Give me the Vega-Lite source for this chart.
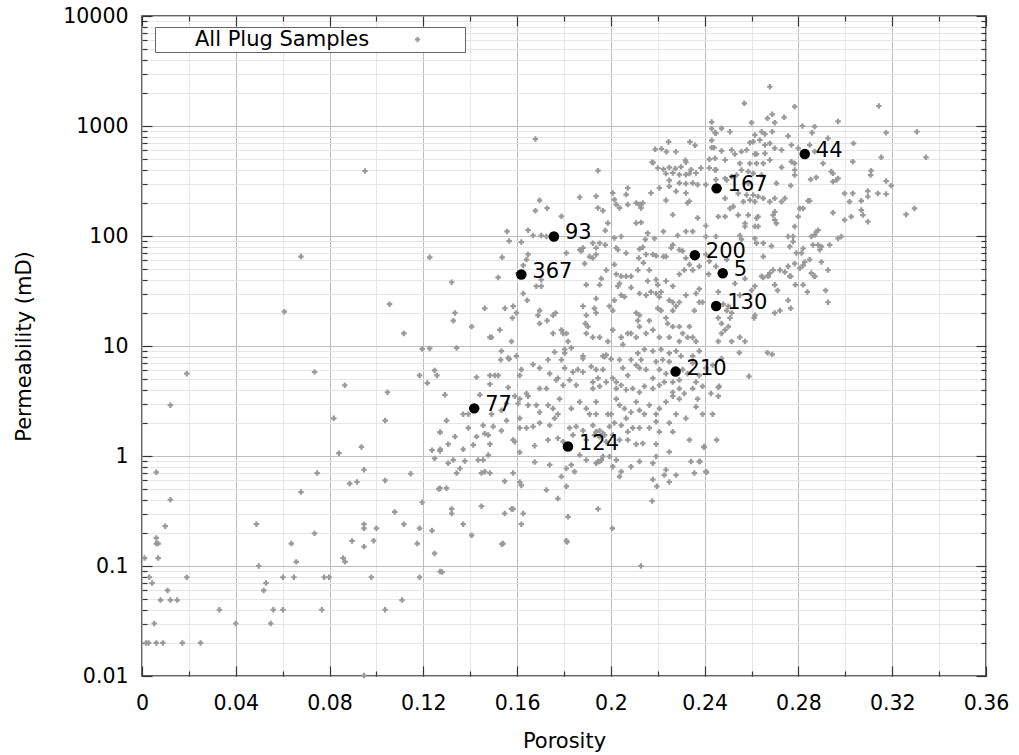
{
"$schema": "https://vega.github.io/schema/vega-lite/v6.json",
"width": 844, "height": 660,
"autosize": {"type": "none"},
"padding": {"left": 142, "top": 16, "right": 33, "bottom": 79},
"background": "white",
"config": {"view": {"stroke": "#333333", "strokeWidth": 1.5}, "font": "DejaVu Sans"},
"datasets": {
"marked": [{"por":0.2827,"perm":556,"label":"44"},{"por":0.2451,"perm":271,"label":"167"},{"por":0.1757,"perm":99,"label":"93"},{"por":0.2358,"perm":67,"label":"200"},{"por":0.1618,"perm":44.6,"label":"367"},{"por":0.2477,"perm":45.8,"label":"5"},{"por":0.2449,"perm":23.1,"label":"130"},{"por":0.2276,"perm":5.85,"label":"210"},{"por":0.1417,"perm":2.71,"label":"77"},{"por":0.1817,"perm":1.22,"label":"124"}],
"plugs": [
{"por":0.0678,"perm":65},{"por":0.1227,"perm":64},{"por":0.0607,"perm":20.5},{"por":0.1056,"perm":24},{"por":0.1117,"perm":13},{"por":0.1195,"perm":9.4},{"por":0.1227,"perm":9.5},{"por":0.0191,"perm":5.6},{"por":0.0121,"perm":2.9},{"por":0.0736,"perm":5.8},{"por":0.0865,"perm":4.4},{"por":0.1047,"perm":3.8},{"por":0.1184,"perm":5.4},{"por":0.1217,"perm":4.6},{"por":0.1248,"perm":6.0},{"por":0.1258,"perm":5.4},{"por":0.0818,"perm":2.2},{"por":0.1037,"perm":2.1},{"por":0.1272,"perm":1.65},{"por":0.084,"perm":1.06},{"por":0.0936,"perm":1.21},{"por":0.1237,"perm":1.13},{"por":0.1272,"perm":1.15},{"por":0.1248,"perm":0.95},{"por":0.0061,"perm":0.71},{"por":0.0121,"perm":0.4},{"por":0.0099,"perm":0.23},{"por":0.0061,"perm":0.18},{"por":0.0061,"perm":0.16},{"por":0.0069,"perm":0.16},{"por":0.0069,"perm":0.118},{"por":0.0011,"perm":0.118},{"por":0.0031,"perm":0.079},{"por":0.0043,"perm":0.07},{"por":0.0191,"perm":0.079},{"por":0.0109,"perm":0.06},{"por":0.0079,"perm":0.049},{"por":0.0121,"perm":0.049},{"por":0.015,"perm":0.049},{"por":0.0052,"perm":0.03},{"por":0.0017,"perm":0.02},{"por":0.0028,"perm":0.02},{"por":0.0061,"perm":0.02},{"por":0.0089,"perm":0.02},{"por":0.0172,"perm":0.02},{"por":0.025,"perm":0.02},{"por":0.033,"perm":0.04},{"por":0.04,"perm":0.03},{"por":0.0488,"perm":0.24},{"por":0.0498,"perm":0.1},{"por":0.0519,"perm":0.06},{"por":0.0529,"perm":0.07},{"por":0.056,"perm":0.04},{"por":0.0549,"perm":0.03},{"por":0.0601,"perm":0.079},{"por":0.0601,"perm":0.04},{"por":0.0648,"perm":0.079},{"por":0.0637,"perm":0.16},{"por":0.0658,"perm":0.109},{"por":0.0678,"perm":0.47},{"por":0.0747,"perm":0.7},{"por":0.0736,"perm":0.198},{"por":0.0767,"perm":0.04},{"por":0.0777,"perm":0.079},{"por":0.0798,"perm":0.079},{"por":0.0858,"perm":0.118},{"por":0.0866,"perm":0.109},{"por":0.0886,"perm":0.56},{"por":0.0917,"perm":0.58},{"por":0.0896,"perm":0.169},{"por":0.0947,"perm":0.75},{"por":0.0947,"perm":0.24},{"por":0.0947,"perm":0.22},{"por":0.0947,"perm":0.15},{"por":0.1,"perm":0.22},{"por":0.0988,"perm":0.17},{"por":0.0978,"perm":0.079},{"por":0.0947,"perm":0.0101},{"por":0.1037,"perm":0.6},{"por":0.1037,"perm":0.04},{"por":0.1078,"perm":0.31},{"por":0.1117,"perm":0.24},{"por":0.1109,"perm":0.049},{"por":0.1146,"perm":0.69},{"por":0.1184,"perm":0.22},{"por":0.1174,"perm":0.16},{"por":0.1184,"perm":0.079},{"por":0.1195,"perm":0.38},{"por":0.1237,"perm":0.21},{"por":0.1248,"perm":0.13},{"por":0.1266,"perm":0.5},{"por":0.1272,"perm":0.089},{"por":0.0951,"perm":390},
{"por":0.1945,"perm":393},{"por":0.2176,"perm":468},{"por":0.22,"perm":415},{"por":0.2224,"perm":405},{"por":0.2249,"perm":420},{"por":0.2275,"perm":410},{"por":0.2299,"perm":425},{"por":0.232,"perm":468},{"por":0.2342,"perm":401},{"por":0.2363,"perm":374},{"por":0.2384,"perm":415},{"por":0.242,"perm":415},{"por":0.2448,"perm":401},{"por":0.2235,"perm":369},{"por":0.2264,"perm":374},{"por":0.2292,"perm":361},{"por":0.232,"perm":361},{"por":0.2335,"perm":369},{"por":0.2249,"perm":321},{"por":0.2292,"perm":303},{"por":0.232,"perm":299},{"por":0.2349,"perm":303},{"por":0.237,"perm":293},{"por":0.2249,"perm":283},{"por":0.2278,"perm":255},{"por":0.232,"perm":246},{"por":0.2405,"perm":293},{"por":0.2448,"perm":325},{"por":0.2207,"perm":273},{"por":0.2171,"perm":246},{"por":0.2072,"perm":273},{"por":0.2065,"perm":238},{"por":0.2008,"perm":246},{"por":0.2015,"perm":214},{"por":0.2023,"perm":193},{"por":0.2072,"perm":193},{"por":0.2108,"perm":200},{"por":0.2122,"perm":193},{"por":0.2136,"perm":200},{"por":0.2129,"perm":180},{"por":0.2037,"perm":180},{"por":0.1937,"perm":230},{"por":0.1867,"perm":225},{"por":0.1696,"perm":211},{"por":0.1678,"perm":170},{"por":0.1728,"perm":179},{"por":0.1789,"perm":151},{"por":0.1966,"perm":170},{"por":0.1945,"perm":180},{"por":0.2235,"perm":211},{"por":0.2327,"perm":200},{"por":0.2335,"perm":207},{"por":0.2264,"perm":156},{"por":0.237,"perm":146},{"por":0.2405,"perm":124},{"por":0.1987,"perm":131},{"por":0.2108,"perm":131},{"por":0.2129,"perm":133},{"por":0.2157,"perm":106},{"por":0.2147,"perm":93},{"por":0.2186,"perm":95},{"por":0.2224,"perm":110},{"por":0.2285,"perm":101},{"por":0.232,"perm":110},{"por":0.2349,"perm":110},{"por":0.2405,"perm":99},{"por":0.2448,"perm":99},{"por":0.1557,"perm":110},{"por":0.1647,"perm":113},{"por":0.1668,"perm":101},{"por":0.1703,"perm":101},{"por":0.1725,"perm":99},{"por":0.1566,"perm":90},{"por":0.1618,"perm":88},{"por":0.181,"perm":70},{"por":0.1867,"perm":75},{"por":0.1881,"perm":78},{"por":0.1874,"perm":73},{"por":0.1923,"perm":86},{"por":0.1937,"perm":78},{"por":0.1952,"perm":86},{"por":0.1976,"perm":83},{"por":0.1976,"perm":112},{"por":0.2015,"perm":96},{"por":0.2023,"perm":78},{"por":0.2044,"perm":99},{"por":0.203,"perm":75},{"por":0.2065,"perm":70},{"por":0.2122,"perm":76},{"por":0.2136,"perm":79},{"por":0.215,"perm":68},{"por":0.2179,"perm":68},{"por":0.2193,"perm":66},{"por":0.2224,"perm":65},{"por":0.2235,"perm":65},{"por":0.2264,"perm":83},{"por":0.2257,"perm":78},{"por":0.2292,"perm":75},{"por":0.2306,"perm":73},{"por":0.232,"perm":63},{"por":0.2405,"perm":68},{"por":0.242,"perm":59},{"por":0.2377,"perm":53},{"por":0.1536,"perm":64},{"por":0.1647,"perm":68},{"por":0.164,"perm":61},{"por":0.1626,"perm":54},{"por":0.1604,"perm":46},{"por":0.1519,"perm":42},{"por":0.1321,"perm":38},{"por":0.1682,"perm":35},{"por":0.1703,"perm":35},{"por":0.1703,"perm":40},{"por":0.1888,"perm":56},{"por":0.1923,"perm":63},{"por":0.1909,"perm":65},{"por":0.1937,"perm":68},{"por":0.198,"perm":49},{"por":0.2015,"perm":55},{"por":0.2023,"perm":45},{"por":0.2044,"perm":43},{"por":0.2065,"perm":43},{"por":0.2086,"perm":43},{"por":0.2119,"perm":63},{"por":0.2115,"perm":49},{"por":0.2139,"perm":57},{"por":0.2164,"perm":49},{"por":0.2157,"perm":39},{"por":0.2193,"perm":40},{"por":0.22,"perm":36},{"por":0.2235,"perm":39},{"por":0.2264,"perm":35},{"por":0.2292,"perm":45},{"por":0.2313,"perm":49},{"por":0.2335,"perm":55},{"por":0.2349,"perm":49},{"por":0.2417,"perm":45},{"por":0.2448,"perm":53},{"por":0.1895,"perm":36},{"por":0.1959,"perm":41},{"por":0.1952,"perm":36},{"por":0.203,"perm":35},{"por":0.2037,"perm":37},{"por":0.2086,"perm":34},{"por":0.2122,"perm":30},{"por":0.215,"perm":29},{"por":0.2171,"perm":31},{"por":0.2193,"perm":30},{"por":0.2207,"perm":28},{"por":0.2214,"perm":31},{"por":0.2249,"perm":26},{"por":0.2264,"perm":25},{"por":0.2292,"perm":25},{"por":0.2278,"perm":23},{"por":0.232,"perm":29},{"por":0.2363,"perm":30},{"por":0.2391,"perm":25},{"por":0.2377,"perm":33},{"por":0.1626,"perm":30},{"por":0.1643,"perm":26},{"por":0.1583,"perm":23},{"por":0.1548,"perm":22},{"por":0.1462,"perm":22},{"por":0.1335,"perm":20},{"por":0.1328,"perm":17},{"por":0.1406,"perm":15},{"por":0.1491,"perm":12},{"por":0.1526,"perm":14},{"por":0.158,"perm":18},{"por":0.1597,"perm":20},{"por":0.1696,"perm":21},{"por":0.1689,"perm":19},{"por":0.1764,"perm":20},{"por":0.1753,"perm":19},{"por":0.1728,"perm":17},{"por":0.1753,"perm":13},{"por":0.1789,"perm":14},{"por":0.1796,"perm":13},{"por":0.181,"perm":13},{"por":0.1817,"perm":11},{"por":0.1696,"perm":16},{"por":0.1881,"perm":23},{"por":0.1895,"perm":19},{"por":0.1891,"perm":16},{"por":0.193,"perm":22},{"por":0.1937,"perm":20},{"por":0.1937,"perm":27},{"por":0.1994,"perm":23},{"por":0.2008,"perm":21},{"por":0.2015,"perm":26},{"por":0.2044,"perm":29},{"por":0.2058,"perm":28},{"por":0.2108,"perm":20},{"por":0.2122,"perm":19},{"por":0.2115,"perm":17},{"por":0.2122,"perm":15},{"por":0.2164,"perm":17},{"por":0.22,"perm":22},{"por":0.2214,"perm":21},{"por":0.2235,"perm":18},{"por":0.2242,"perm":16},{"por":0.2264,"perm":21},{"por":0.2264,"perm":15},{"por":0.2292,"perm":15},{"por":0.2306,"perm":13},{"por":0.2335,"perm":15},{"por":0.2349,"perm":12},{"por":0.2363,"perm":11},{"por":0.2377,"perm":25},{"por":0.2356,"perm":21},{"por":0.1895,"perm":13},{"por":0.1902,"perm":15},{"por":0.1923,"perm":12},{"por":0.1952,"perm":12},{"por":0.2008,"perm":14},{"por":0.1987,"perm":11},{"por":0.2044,"perm":12},{"por":0.2072,"perm":13},{"por":0.2086,"perm":13},{"por":0.2108,"perm":12},{"por":0.215,"perm":13},{"por":0.2179,"perm":14},{"por":0.2207,"perm":12},{"por":0.2249,"perm":12},{"por":0.2292,"perm":11},{"por":0.2327,"perm":12},{"por":0.1484,"perm":12},{"por":0.1576,"perm":11},{"por":0.1342,"perm":9.6},{"por":0.1533,"perm":9.0},{"por":0.1562,"perm":7.8},{"por":0.1597,"perm":8.1},{"por":0.176,"perm":8.8},{"por":0.1803,"perm":9.3},{"por":0.1803,"perm":8.6},{"por":0.1831,"perm":9.6},{"por":0.1881,"perm":8.1},{"por":0.1966,"perm":8.1},{"por":0.198,"perm":8.3},{"por":0.2051,"perm":10.3},{"por":0.2115,"perm":8.6},{"por":0.2143,"perm":9.3},{"por":0.2179,"perm":9.0},{"por":0.2214,"perm":9.3},{"por":0.2249,"perm":8.6},{"por":0.2278,"perm":9.0},{"por":0.2299,"perm":8.1},{"por":0.2349,"perm":8.1},{"por":0.2377,"perm":9.0},
{"por":0.153,"perm":7.5},{"por":0.1566,"perm":7.6},{"por":0.1618,"perm":6.1},{"por":0.1668,"perm":6.8},{"por":0.1696,"perm":6.3},{"por":0.1732,"perm":7.5},{"por":0.1739,"perm":5.6},{"por":0.1774,"perm":5.1},{"por":0.1789,"perm":7.5},{"por":0.1803,"perm":6.3},{"por":0.1838,"perm":5.8},{"por":0.1859,"perm":6.1},{"por":0.1881,"perm":7.7},{"por":0.1881,"perm":5.8},{"por":0.1916,"perm":6.5},{"por":0.1937,"perm":6.1},{"por":0.1945,"perm":5.1},{"por":0.1966,"perm":6.1},{"por":0.1973,"perm":8.0},{"por":0.2001,"perm":7.6},{"por":0.2008,"perm":5.1},{"por":0.2023,"perm":4.7},{"por":0.2037,"perm":7.5},{"por":0.2051,"perm":6.3},{"por":0.2072,"perm":5.4},{"por":0.2086,"perm":7.5},{"por":0.2108,"perm":6.7},{"por":0.2122,"perm":6.3},{"por":0.2129,"perm":7.5},{"por":0.215,"perm":6.1},{"por":0.2179,"perm":5.1},{"por":0.2193,"perm":7.2},{"por":0.2207,"perm":6.1},{"por":0.2221,"perm":7.5},{"por":0.2235,"perm":5.6},{"por":0.2249,"perm":7.2},{"por":0.2264,"perm":4.7},{"por":0.2292,"perm":4.9},{"por":0.2306,"perm":6.1},{"por":0.2327,"perm":5.6},{"por":0.2349,"perm":7.0},{"por":0.2363,"perm":4.7},{"por":0.2377,"perm":5.4},{"por":0.2405,"perm":6.3},{"por":0.2434,"perm":6.7},{"por":0.2462,"perm":4.3},
{"por":0.1427,"perm":5.2},{"por":0.1484,"perm":5.4},{"por":0.1505,"perm":5.4},{"por":0.1519,"perm":5.4},{"por":0.1441,"perm":3.6},{"por":0.1484,"perm":4.5},{"por":0.1562,"perm":4.2},{"por":0.1611,"perm":5.4},{"por":0.164,"perm":3.7},{"por":0.1647,"perm":3.5},{"por":0.1696,"perm":4.1},{"por":0.1725,"perm":4.1},{"por":0.1767,"perm":4.9},{"por":0.1796,"perm":4.4},{"por":0.1824,"perm":4.9},{"por":0.1852,"perm":4.4},{"por":0.1923,"perm":4.7},{"por":0.1923,"perm":4.1},{"por":0.1952,"perm":4.3},{"por":0.198,"perm":4.7},{"por":0.2023,"perm":4.1},{"por":0.2044,"perm":4.4},{"por":0.2065,"perm":4.0},{"por":0.2093,"perm":4.1},{"por":0.2122,"perm":3.8},{"por":0.2143,"perm":4.3},{"por":0.2179,"perm":4.1},{"por":0.2207,"perm":4.4},{"por":0.2228,"perm":4.7},{"por":0.2264,"perm":3.8},{"por":0.2292,"perm":4.1},{"por":0.2313,"perm":3.7},{"por":0.2349,"perm":4.1},{"por":0.237,"perm":3.3},{"por":0.2391,"perm":4.3},{"por":0.2427,"perm":3.7},
{"por":0.1292,"perm":3.6},{"por":0.137,"perm":2.4},{"por":0.1392,"perm":2.4},{"por":0.1491,"perm":2.4},{"por":0.1533,"perm":2.6},{"por":0.1555,"perm":3.0},{"por":0.159,"perm":3.5},{"por":0.1611,"perm":3.3},{"por":0.1604,"perm":3.0},{"por":0.1647,"perm":2.9},{"por":0.1682,"perm":2.9},{"por":0.1696,"perm":2.5},{"por":0.1732,"perm":2.9},{"por":0.1753,"perm":2.7},{"por":0.1781,"perm":3.3},{"por":0.1774,"perm":2.4},{"por":0.1831,"perm":2.7},{"por":0.1867,"perm":3.1},{"por":0.1895,"perm":2.7},{"por":0.1909,"perm":2.4},{"por":0.1937,"perm":2.4},{"por":0.1937,"perm":3.1},{"por":0.1987,"perm":2.4},{"por":0.2001,"perm":2.4},{"por":0.2023,"perm":3.3},{"por":0.2037,"perm":2.9},{"por":0.2058,"perm":2.7},{"por":0.2065,"perm":2.2},{"por":0.2086,"perm":2.5},{"por":0.2108,"perm":3.1},{"por":0.2122,"perm":2.6},{"por":0.2143,"perm":2.4},{"por":0.2164,"perm":2.9},{"por":0.2193,"perm":2.4},{"por":0.2207,"perm":2.7},{"por":0.2235,"perm":3.1},{"por":0.2264,"perm":3.5},{"por":0.2292,"perm":3.3},{"por":0.2278,"perm":2.4},{"por":0.232,"perm":2.2},{"por":0.2363,"perm":2.8},{"por":0.2391,"perm":2.4},{"por":0.2434,"perm":2.4},
{"por":0.1299,"perm":2.1},{"por":0.1392,"perm":1.8},{"por":0.1427,"perm":1.5},{"por":0.1462,"perm":1.6},{"por":0.1455,"perm":1.9},{"por":0.1498,"perm":1.85},{"por":0.1533,"perm":1.7},{"por":0.1555,"perm":2.1},{"por":0.159,"perm":1.35},{"por":0.1611,"perm":2.2},{"por":0.1611,"perm":1.8},{"por":0.164,"perm":1.8},{"por":0.1668,"perm":1.85},{"por":0.1696,"perm":2.0},{"por":0.1739,"perm":1.9},{"por":0.176,"perm":2.2},{"por":0.1824,"perm":1.8},{"por":0.1838,"perm":1.55},{"por":0.1852,"perm":1.85},{"por":0.1881,"perm":1.7},{"por":0.1923,"perm":1.9},{"por":0.1952,"perm":1.7},{"por":0.1966,"perm":1.6},{"por":0.1994,"perm":1.85},{"por":0.2015,"perm":2.0},{"por":0.2044,"perm":1.9},{"por":0.2072,"perm":1.66},{"por":0.2093,"perm":1.8},{"por":0.2122,"perm":1.8},{"por":0.2164,"perm":1.8},{"por":0.2193,"perm":2.05},{"por":0.2207,"perm":1.66},{"por":0.2249,"perm":2.0},{"por":0.2264,"perm":1.66},
{"por":0.1271,"perm":1.64},{"por":0.1335,"perm":1.5},{"por":0.1306,"perm":1.28},{"por":0.137,"perm":1.15},{"por":0.1413,"perm":1.26},{"por":0.1477,"perm":1.55},{"por":0.1484,"perm":1.28},{"por":0.1583,"perm":1.4},{"por":0.1611,"perm":1.08},{"por":0.1675,"perm":1.24},{"por":0.1732,"perm":1.4},{"por":0.1774,"perm":1.45},{"por":0.1796,"perm":1.35},{"por":0.1895,"perm":1.4},{"por":0.193,"perm":1.55},{"por":0.1952,"perm":1.5},{"por":0.198,"perm":1.35},{"por":0.2008,"perm":1.55},{"por":0.2037,"perm":1.4},{"por":0.2072,"perm":1.4},{"por":0.2108,"perm":1.28},{"por":0.2136,"perm":1.3},{"por":0.2193,"perm":1.28},{"por":0.2335,"perm":1.4},{"por":0.2398,"perm":1.22},
{"por":0.1271,"perm":1.11},{"por":0.1328,"perm":0.92},{"por":0.1306,"perm":0.86},{"por":0.1377,"perm":0.9},{"por":0.1342,"perm":0.7},{"por":0.1356,"perm":0.77},{"por":0.1434,"perm":0.92},{"por":0.1455,"perm":0.92},{"por":0.1448,"perm":0.7},{"por":0.1462,"perm":0.72},{"por":0.1484,"perm":0.7},{"por":0.1477,"perm":1.02},{"por":0.1547,"perm":0.59},{"por":0.1583,"perm":0.7},{"por":0.1611,"perm":0.58},{"por":0.1618,"perm":0.54},{"por":0.1675,"perm":0.88},{"por":0.1739,"perm":0.83},{"por":0.1789,"perm":0.65},{"por":0.181,"perm":0.77},{"por":0.1831,"perm":0.83},{"por":0.1845,"perm":0.72},{"por":0.1867,"perm":1.02},{"por":0.1895,"perm":0.92},{"por":0.1937,"perm":0.86},{"por":0.1952,"perm":0.89},{"por":0.1966,"perm":0.99},{"por":0.1994,"perm":0.99},{"por":0.2008,"perm":0.8},{"por":0.2023,"perm":0.92},{"por":0.2044,"perm":0.72},{"por":0.2037,"perm":0.65},{"por":0.2086,"perm":0.8},{"por":0.2122,"perm":0.89},{"por":0.2179,"perm":0.86},{"por":0.2193,"perm":0.99},{"por":0.2249,"perm":1.09},{"por":0.2235,"perm":0.75},{"por":0.2228,"perm":0.67},{"por":0.2278,"perm":0.67},{"por":0.2249,"perm":0.58},{"por":0.2342,"perm":0.89},{"por":0.2377,"perm":0.89},{"por":0.2356,"perm":0.7},{"por":0.2405,"perm":0.72},
{"por":0.1271,"perm":0.51},{"por":0.1299,"perm":0.51},{"por":0.1321,"perm":0.33},{"por":0.1321,"perm":0.3},{"por":0.137,"perm":0.24},{"por":0.1406,"perm":0.19},{"por":0.1448,"perm":0.35},{"por":0.154,"perm":0.16},{"por":0.1547,"perm":0.3},{"por":0.1576,"perm":0.33},{"por":0.1583,"perm":0.33},{"por":0.1618,"perm":0.24},{"por":0.1626,"perm":0.3},{"por":0.1725,"perm":0.49},{"por":0.1774,"perm":0.41},{"por":0.181,"perm":0.53},{"por":0.1817,"perm":0.28},{"por":0.181,"perm":0.17},{"por":0.1945,"perm":0.33},{"por":0.2006,"perm":0.22},{"por":0.2176,"perm":0.39},{"por":0.2196,"perm":0.53},{"por":0.2179,"perm":0.61},{"por":0.1937,"perm":1.66},{"por":0.1952,"perm":1.5},{"por":0.1973,"perm":1.55},{"por":0.1945,"perm":0.89},{"por":0.1959,"perm":0.92},
{"por":0.2678,"perm":2275},{"por":0.2569,"perm":1607},{"por":0.2784,"perm":1500},{"por":0.3143,"perm":1520},{"por":0.26,"perm":1072},{"por":0.2668,"perm":1175},{"por":0.2688,"perm":1277},{"por":0.2699,"perm":1072},{"por":0.2739,"perm":1200},{"por":0.2969,"perm":1100},{"por":0.2817,"perm":1000},{"por":0.2869,"perm":986},{"por":0.2858,"perm":869},{"por":0.3174,"perm":869},{"por":0.3305,"perm":887},{"por":0.2444,"perm":869},{"por":0.2472,"perm":953},{"por":0.2508,"perm":887},{"por":0.2614,"perm":828},{"por":0.2643,"perm":887},{"por":0.2657,"perm":845},{"por":0.2688,"perm":887},{"por":0.2756,"perm":811},{"por":0.2593,"perm":705},{"por":0.2607,"perm":720},{"por":0.2635,"perm":746},{"por":0.2657,"perm":672},{"por":0.2678,"perm":695},{"por":0.2699,"perm":627},{"por":0.277,"perm":672},{"por":0.2472,"perm":593},{"por":0.2515,"perm":605},{"por":0.2557,"perm":585},{"por":0.2579,"perm":605},{"por":0.2614,"perm":556},{"por":0.2621,"perm":556},{"por":0.2657,"perm":564},{"por":0.2728,"perm":605},{"por":0.2799,"perm":627},{"por":0.2848,"perm":672},{"por":0.2869,"perm":585},{"por":0.2926,"perm":773},{"por":0.3035,"perm":695},{"por":0.2444,"perm":508},{"por":0.2487,"perm":491},{"por":0.2529,"perm":556},{"por":0.255,"perm":457},{"por":0.2593,"perm":457},{"por":0.2621,"perm":457},{"por":0.265,"perm":457},{"por":0.2678,"perm":491},{"por":0.277,"perm":474},{"por":0.2784,"perm":457},{"por":0.2905,"perm":457},{"por":0.3032,"perm":474},{"por":0.3153,"perm":519},{"por":0.3344,"perm":519},{"por":0.2444,"perm":398},{"por":0.2487,"perm":334},{"por":0.2515,"perm":346},{"por":0.2536,"perm":358},{"por":0.2557,"perm":398},{"por":0.2586,"perm":385},{"por":0.2607,"perm":371},{"por":0.2643,"perm":358},{"por":0.2728,"perm":421},{"por":0.2784,"perm":398},{"por":0.2784,"perm":358},{"por":0.294,"perm":385},{"por":0.2947,"perm":371},{"por":0.2962,"perm":323},{"por":0.2947,"perm":312},{"por":0.311,"perm":393},{"por":0.3108,"perm":358},{"por":0.3174,"perm":316},{"por":0.3196,"perm":287},{"por":0.2494,"perm":323},{"por":0.2586,"perm":301},{"por":0.2706,"perm":301},{"por":0.2767,"perm":287},{"por":0.2852,"perm":327},{"por":0.2876,"perm":341},{"por":0.2969,"perm":334},
{"por":0.2487,"perm":220},{"por":0.2543,"perm":244},{"por":0.2579,"perm":236},{"por":0.2607,"perm":236},{"por":0.2628,"perm":228},{"por":0.265,"perm":220},{"por":0.2678,"perm":205},{"por":0.2699,"perm":220},{"por":0.2728,"perm":205},{"por":0.2742,"perm":220},{"por":0.2565,"perm":205},{"por":0.2593,"perm":212},{"por":0.2614,"perm":205},{"por":0.2508,"perm":178},{"por":0.2522,"perm":185},{"por":0.2458,"perm":150},{"por":0.2487,"perm":150},{"por":0.2543,"perm":155},{"por":0.2586,"perm":155},{"por":0.2621,"perm":145},{"por":0.2628,"perm":150},{"por":0.2692,"perm":155},{"por":0.2699,"perm":166},{"por":0.2799,"perm":150},{"por":0.2806,"perm":178},{"por":0.282,"perm":178},{"por":0.2841,"perm":209},{"por":0.2848,"perm":209},{"por":0.2947,"perm":163},{"por":0.2997,"perm":244},{"por":0.3032,"perm":244},{"por":0.3018,"perm":205},{"por":0.3068,"perm":209},{"por":0.3096,"perm":256},{"por":0.3096,"perm":228},{"por":0.3139,"perm":244},{"por":0.3174,"perm":241},{"por":0.3259,"perm":157},{"por":0.3295,"perm":178},{"por":0.2997,"perm":140},{"por":0.3025,"perm":150},{"por":0.3068,"perm":172},{"por":0.3075,"perm":155},{"por":0.3096,"perm":135},{"por":0.2784,"perm":122},{"por":0.2572,"perm":130},{"por":0.2572,"perm":122},{"por":0.2614,"perm":122},{"por":0.2628,"perm":122},{"por":0.2706,"perm":130},{"por":0.2699,"perm":140},
{"por":0.255,"perm":101},{"por":0.2557,"perm":93},{"por":0.2614,"perm":95},{"por":0.2621,"perm":86},{"por":0.265,"perm":86},{"por":0.2685,"perm":81},{"por":0.2756,"perm":99},{"por":0.2777,"perm":99},{"por":0.2777,"perm":89},{"por":0.2763,"perm":80},{"por":0.2813,"perm":70},{"por":0.282,"perm":77},{"por":0.2791,"perm":70},{"por":0.2855,"perm":99},{"por":0.2869,"perm":102},{"por":0.2876,"perm":109},{"por":0.2884,"perm":113},{"por":0.2862,"perm":83},{"por":0.2884,"perm":83},{"por":0.2898,"perm":80},{"por":0.2891,"perm":75},{"por":0.2933,"perm":83},{"por":0.2969,"perm":95},{"por":0.2983,"perm":99},{"por":0.265,"perm":65},{"por":0.2494,"perm":61},{"por":0.2678,"perm":46},{"por":0.2692,"perm":49},{"por":0.2721,"perm":49},{"por":0.2742,"perm":47},{"por":0.2756,"perm":53},{"por":0.2784,"perm":56},{"por":0.2806,"perm":51},{"por":0.282,"perm":54},{"por":0.2827,"perm":58},{"por":0.2848,"perm":61},{"por":0.2898,"perm":58},{"por":0.2926,"perm":49},{"por":0.2855,"perm":46},{"por":0.2869,"perm":43},{"por":0.2763,"perm":43},{"por":0.2671,"perm":43},{"por":0.2643,"perm":43},
{"por":0.265,"perm":42},{"por":0.2671,"perm":44},{"por":0.2699,"perm":36},{"por":0.2711,"perm":32},{"por":0.2767,"perm":43},{"por":0.2787,"perm":36},{"por":0.282,"perm":36},{"por":0.2838,"perm":31},{"por":0.2869,"perm":43},{"por":0.2916,"perm":32},{"por":0.2926,"perm":25},{"por":0.2756,"perm":26},{"por":0.2767,"perm":22},{"por":0.2699,"perm":20},{"por":0.2721,"perm":21},{"por":0.2611,"perm":18},{"por":0.2614,"perm":19},{"por":0.26,"perm":32},{"por":0.2614,"perm":35},{"por":0.2572,"perm":41},{"por":0.2529,"perm":37},{"por":0.255,"perm":29},{"por":0.2458,"perm":31},{"por":0.2479,"perm":24},{"por":0.2501,"perm":23},{"por":0.2515,"perm":20},{"por":0.2494,"perm":21},{"por":0.2508,"perm":18},{"por":0.2458,"perm":18},{"por":0.2472,"perm":16},{"por":0.2501,"perm":15},{"por":0.2487,"perm":14},{"por":0.2472,"perm":13},{"por":0.2458,"perm":11},{"por":0.2515,"perm":11},{"por":0.255,"perm":12},{"por":0.2572,"perm":11},{"por":0.2548,"perm":8.7},{"por":0.2668,"perm":8.7},{"por":0.2688,"perm":8.4},{"por":0.2589,"perm":5.3},{"por":0.2458,"perm":4.2},{"por":0.2458,"perm":3.5},{"por":0.2451,"perm":1.4},{"por":0.2472,"perm":7.7},
{"por":0.1535,"perm":0.158},{"por":0.1813,"perm":0.165},{"por":0.128,"perm":0.088},{"por":0.2128,"perm":0.1},{"por":0.2397,"perm":1.2},{"por":0.238,"perm":0.89},{"por":0.2408,"perm":0.71},
{"por":0.1678,"perm":762},{"por":0.243,"perm":1086},{"por":0.243,"perm":946},{"por":0.2448,"perm":859},{"por":0.2246,"perm":716},{"por":0.2337,"perm":716},{"por":0.2359,"perm":667},{"por":0.2189,"perm":614},{"por":0.2216,"perm":620},{"por":0.2237,"perm":583},{"por":0.2277,"perm":583},{"por":0.243,"perm":741},{"por":0.243,"perm":636},{"por":0.244,"perm":636},{"por":0.242,"perm":498},{"por":0.218,"perm":464},{"por":0.2318,"perm":488}
]
},
"layer": [
{
"data": {"name": "plugs"},
"mark": {"type": "point", "shape": "cross", "filled": true, "size": 30, "opacity": 1},
"encoding": {
"x": {"field": "por", "type": "quantitative", "scale": {"domain": [0, 0.36], "nice": false, "zero": false},
 "axis": {"orient": "bottom", "values": [0,0.02,0.04,0.06,0.08,0.1,0.12,0.14,0.16,0.18,0.2,0.22,0.24,0.26,0.28,0.3,0.32,0.34,0.36],
  "labelExpr": "abs(datum.value/0.04 - round(datum.value/0.04)) < 0.01 ? format(datum.value, '~g') : ''",
  "labelFontSize": 20.5, "labelFont": "DejaVu Sans", "labelColor": "black", "labelPadding": 27, "labelOverlap": false, "labelFlush": false, "labelBound": false,
  "tickSize": {"condition": {"test": "abs(datum.value/0.04 - round(datum.value/0.04)) < 0.01", "value": -10}, "value": -5},
  "tickColor": "#333333", "tickWidth": 1.2,
  "grid": true, "gridColor": {"condition": {"test": "abs(datum.value/0.04 - round(datum.value/0.04)) < 0.01", "value": "#bdbdbd"}, "value": "#e6e6e6"}, "gridWidth": 1,
  "domain": false,
  "title": "Porosity", "titleFontSize": 21, "titleFont": "DejaVu Sans", "titleFontWeight": "normal", "titleColor": "black", "titlePadding": 12}},
"y": {"field": "perm", "type": "quantitative", "scale": {"type": "log", "domain": [0.01, 10000], "nice": false},
 "axis": {"orient": "left", "values": [0.01,0.02,0.03,0.04,0.05,0.06,0.07,0.08,0.09,0.1,0.2,0.3,0.4,0.5,0.6,0.7,0.8,0.9,1,2,3,4,5,6,7,8,9,10,20,30,40,50,60,70,80,90,100,200,300,400,500,600,700,800,900,1000,2000,3000,4000,5000,6000,7000,8000,9000,10000],
  "labelExpr": "abs(log(datum.value)/LN10 - round(log(datum.value)/LN10)) < 0.001 ? format(datum.value, '~g') : ''",
  "labelFontSize": 20.5, "labelFont": "DejaVu Sans", "labelColor": "black", "labelPadding": 24, "labelOverlap": false, "labelFlush": false, "labelBound": false,
  "tickSize": {"condition": {"test": "abs(log(datum.value)/LN10 - round(log(datum.value)/LN10)) < 0.001", "value": -10}, "value": -5},
  "tickColor": "#333333", "tickWidth": 1.2,
  "grid": true, "gridColor": {"condition": {"test": "abs(log(datum.value)/LN10 - round(log(datum.value)/LN10)) < 0.001", "value": "#bdbdbd"}, "value": "#e6e6e6"}, "gridWidth": 1,
  "domain": false,
  "title": "Permeability (mD)", "titleFontSize": 21, "titleFont": "DejaVu Sans", "titleFontWeight": "normal", "titleColor": "black", "titlePadding": 28}},
"color": {"datum": "All Plug Samples", "type": "nominal", "scale": {"range": ["#9a9a9a"]},
 "legend": {"title": null, "orient": "none", "legendX": 13, "legendY": 11,
  "symbolType": "M-0.75,-0.3L-0.75,0.3L-0.3,0.3L-0.3,0.75L0.3,0.75L0.3,0.3L0.75,0.3L0.75,-0.3L0.3,-0.3L0.3,-0.75L-0.3,-0.75L-0.3,-0.3ZM12.8,0L12.8,0.01Z",
  "symbolSize": 49, "symbolStrokeWidth": 0,
  "labelFontSize": 21, "labelFont": "DejaVu Sans", "labelColor": "black", "labelLimit": 600,
  "labelOffset": -233, "symbolOffset": 250, "padding": 2, "strokeColor": "#666666", "fillColor": "white"}}
}
},
{
"data": {"name": "marked"},
"mark": {"type": "circle", "size": 110, "color": "black", "opacity": 1},
"encoding": {
"x": {"field": "por", "type": "quantitative", "scale": {"domain": [0, 0.36], "nice": false, "zero": false},
 "axis": {"orient": "top", "values": [0,0.02,0.04,0.06,0.08,0.1,0.12,0.14,0.16,0.18,0.2,0.22,0.24,0.26,0.28,0.3,0.32,0.34,0.36], "labels": false, "grid": false, "domain": false,
  "tickSize": {"condition": {"test": "abs(datum.value/0.04 - round(datum.value/0.04)) < 0.01", "value": -10}, "value": -5},
  "tickColor": "#333333", "tickWidth": 1.2, "title": null}},
"y": {"field": "perm", "type": "quantitative", "scale": {"type": "log", "domain": [0.01, 10000], "nice": false},
 "axis": {"orient": "right", "values": [0.01,0.02,0.03,0.04,0.05,0.06,0.07,0.08,0.09,0.1,0.2,0.3,0.4,0.5,0.6,0.7,0.8,0.9,1,2,3,4,5,6,7,8,9,10,20,30,40,50,60,70,80,90,100,200,300,400,500,600,700,800,900,1000,2000,3000,4000,5000,6000,7000,8000,9000,10000], "labels": false, "grid": false, "domain": false,
  "tickSize": {"condition": {"test": "abs(log(datum.value)/LN10 - round(log(datum.value)/LN10)) < 0.001", "value": -10}, "value": -5},
  "tickColor": "#333333", "tickWidth": 1.2, "title": null}}
}
},
{
"data": {"name": "marked"},
"mark": {"type": "text", "align": "left", "baseline": "middle", "dx": 11, "dy": -3, "fontSize": 21, "font": "DejaVu Sans", "color": "black"},
"encoding": {
"x": {"field": "por", "type": "quantitative", "scale": {"domain": [0, 0.36], "nice": false, "zero": false}, "axis": null},
"y": {"field": "perm", "type": "quantitative", "scale": {"type": "log", "domain": [0.01, 10000], "nice": false}, "axis": null},
"text": {"field": "label"}
}
}
],
"resolve": {"axis": {"x": "independent", "y": "independent"}}
}
